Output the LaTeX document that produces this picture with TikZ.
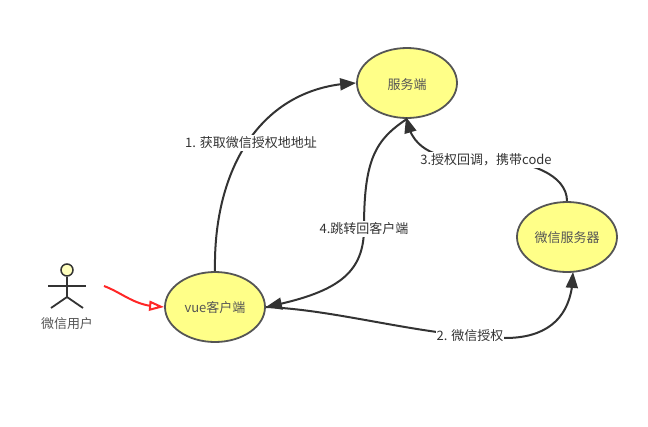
\documentclass[tikz,border=0pt]{standalone}
\usepackage{fontspec}
\setmainfont{Noto Sans CJK SC}
\usetikzlibrary{shapes.geometric,arrows.meta,bending}
\definecolor{ink}{HTML}{333333}
\definecolor{rim}{HTML}{555555}
\definecolor{lemon}{HTML}{FFFF88}
\tikzset{
  usecase/.style={ellipse,draw=rim,fill=lemon,line width=1.8pt,minimum width=100pt,minimum height=70pt,inner sep=0pt,text=rim,font=\fontsize{13}{15}\selectfont},
  flow/.style={draw=ink,line width=2pt,-{Triangle[length=16pt,width=12pt,fill=ink,flex=1]}},
  flowlabel/.style={fill=white,inner xsep=1pt,inner ysep=1.5pt,text=ink,font=\fontsize{13}{15}\selectfont},
  stick/.style={draw=ink,line width=1.8pt},
}
\begin{document}
\begin{tikzpicture}[x=1pt,y=-1pt]
\useasboundingbox (0,0) rectangle (648,426);
\node[usecase] (vue) at (215,307) {\raisebox{-1pt}[\height][\depth]{vue客户端}};
\node[usecase] (srv) at (407,83) {\raisebox{-1.5pt}[\height][\depth]{服务端}};
\node[usecase] (wx) at (567,237) {\raisebox{-1pt}[\height][\depth]{微信服务器}};
% actor
\node[circle,draw=ink,fill=lemon!55!white,line width=1.5pt,minimum size=12pt,inner sep=0pt] (head) at (67,270) {};
\coordinate (hip) at (67,297);
\coordinate (armL) at (48,286);
\coordinate (armR) at (86,286);
\coordinate (legL) at (51,308);
\coordinate (legR) at (83,308);
\draw[stick] (head.south) -- (hip);
\draw[stick] (armL) -- (armR);
\draw[stick] (legL) -- (hip) -- (legR);
\node[text=rim,font=\fontsize{13}{15}\selectfont] (user) at (67,323.5) {微信用户};
% red arrow
\coordinate (redstart) at (104,286);
\draw[draw=red!85!white,line width=2pt,-{Triangle[open,length=15pt,width=10pt,fill=white,flex=1]}] (redstart) .. controls (125,294) and (135,307) .. (vue.west);
% 1
\draw[flow] (vue.north) .. controls (213,170) and (260,86) .. (srv.west);
\node[flowlabel] (l1) at (251,143) {1. 获取微信授权地地址};
% 2
\draw[flow] (vue.east) .. controls (340,310) and (420,336) .. (505,338) .. controls (550,338) and (573,315) .. ([xshift=6pt,yshift=1pt]wx.south);
\node[flowlabel] (l2) at (470,336) {2. 微信授权};
% 3
\draw[flow] (wx.north) .. controls (567,175) and (530,160) .. (486,160) .. controls (445,160) and (412,155) .. ([xshift=-1pt,yshift=2pt]srv.south);
\node[flowlabel] (l3) at (486,160) {3.授权回调，携带code};
% 4
\draw[flow] (srv.south) .. controls (375,140) and (364,160) .. (364,228) .. controls (364,275) and (335,293) .. (vue.east);
\node[flowlabel] (l4) at (364,229) {4.跳转回客户端};
\end{tikzpicture}
\end{document}
